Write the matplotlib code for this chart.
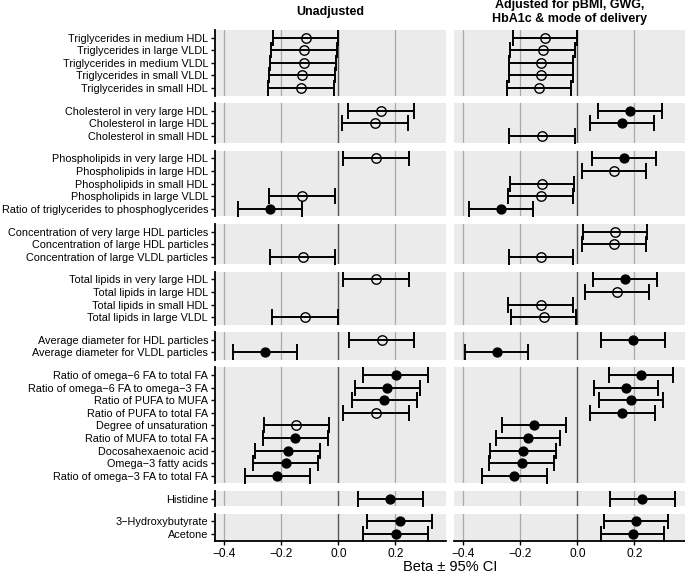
import numpy as np
import matplotlib
matplotlib.use("Agg")
import matplotlib.pyplot as plt

plt.rcParams['font.family'] = ['Liberation Sans', 'DejaVu Sans']

# === Dati ===
groups = [
    ["Triglycerides in medium HDL", "Triglycerides in large VLDL", "Triglycerides in medium VLDL",
     "Triglycerides in small VLDL", "Triglycerides in small HDL"],
    ["Cholesterol in very large HDL", "Cholesterol in large HDL", "Cholesterol in small HDL"],
    ["Phospholipids in very large HDL", "Phospholipids in large HDL", "Phospholipids in small HDL",
     "Phospholipids in large VLDL", "Ratio of triglycerides to phosphoglycerides"],
    ["Concentration of very large HDL particles", "Concentration of large HDL particles",
     "Concentration of large VLDL particles"],
    ["Total lipids in very large HDL", "Total lipids in large HDL", "Total lipids in small HDL",
     "Total lipids in large VLDL"],
    ["Average diameter for HDL particles", "Average diameter for VLDL particles"],
    ["Ratio of omega\u22126 FA to total FA", "Ratio of omega\u22126 FA to omega\u22123 FA",
     "Ratio of PUFA to MUFA", "Ratio of PUFA to total FA", "Degree of unsaturation",
     "Ratio of MUFA to total FA", "Docosahexaenoic acid", "Omega\u22123 fatty acids",
     "Ratio of omega\u22123 FA to total FA"],
    ["Histidine"],
    ["3\u2212Hydroxybutyrate", "Acetone"],
]

nan = np.nan
unadj_lo = [-0.230, -0.237, -0.240, -0.242, -0.246,
            0.035, 0.014, nan,
            0.016, nan, nan, -0.242, -0.354,
            nan, nan, -0.241,
            0.018, nan, nan, -0.233,
            0.036, -0.371,
            0.087, 0.058, 0.048, 0.016, -0.262, -0.265, -0.292, -0.299, -0.329,
            0.068,
            0.102, 0.088]
unadj_beta = [-0.115, -0.119, -0.122, -0.126, -0.131,
              0.151, 0.130, nan,
              0.131, nan, nan, -0.126, -0.241,
              nan, nan, -0.125,
              0.133, nan, nan, -0.117,
              0.152, -0.257,
              0.201, 0.172, 0.161, 0.131, -0.147, -0.151, -0.178, -0.185, -0.215,
              0.181,
              0.216, 0.202]
unadj_hi = [0.000, -0.004, -0.008, -0.011, -0.015,
            0.266, 0.244, nan,
            0.247, nan, nan, -0.011, -0.127,
            nan, nan, -0.010,
            0.249, nan, nan, -0.002,
            0.267, -0.145,
            0.315, 0.287, 0.276, 0.247, -0.033, -0.036, -0.063, -0.071, -0.101,
            0.296,
            0.330, 0.316]
unadj_sig = [0, 0, 0, 0, 0,
             0, 0, 0,
             0, 0, 0, 0, 1,
             0, 0, 0,
             0, 0, 0, 0,
             0, 1,
             1, 1, 1, 0, 0, 1, 1, 1, 1,
             1,
             1, 1]

adj_lo = [-0.227, -0.235, -0.239, -0.240, -0.247,
          0.071, 0.046, -0.239,
          0.053, 0.018, -0.237, -0.242, -0.379,
          0.019, 0.016, -0.241,
          0.055, 0.026, -0.242, -0.232,
          0.084, -0.395,
          0.112, 0.057, 0.076, 0.046, -0.265, -0.285, -0.305, -0.309, -0.335,
          0.115,
          0.095, 0.083]
adj_beta = [-0.112, -0.122, -0.126, -0.127, -0.136,
            0.185, 0.158, -0.123,
            0.165, 0.127, -0.123, -0.129, -0.267,
            0.131, 0.129, -0.129,
            0.168, 0.139, -0.129, -0.118,
            0.196, -0.283,
            0.225, 0.171, 0.189, 0.158, -0.153, -0.172, -0.189, -0.194, -0.221,
            0.227,
            0.207, 0.194]
adj_hi = [-0.002, -0.009, -0.014, -0.015, -0.023,
          0.296, 0.270, -0.008,
          0.277, 0.241, -0.011, -0.016, -0.154,
          0.244, 0.241, -0.015,
          0.281, 0.251, -0.015, -0.005,
          0.309, -0.172,
          0.337, 0.283, 0.302, 0.271, -0.041, -0.060, -0.074, -0.081, -0.108,
          0.342,
          0.319, 0.306]
adj_sig = [0, 0, 0, 0, 0,
           1, 1, 0,
           1, 0, 0, 0, 1,
           0, 0, 0,
           1, 0, 0, 0,
           1, 1,
           1, 1, 1, 1, 1, 1, 1, 1, 1,
           1,
           1, 1]

panel_titles = ["Unadjusted", "Adjusted for pBMI, GWG,\nHbA1c & mode of delivery"]
x_ticks = [-0.4, -0.2, 0.0, 0.2]
x_labels = ["\u22120.4", "\u22120.2", "0.0", "0.2"]

# === Layout (pixel) ===
W, H = 685, 575
cols = [(215, 446), (454, 685)]
TOP, BOTTOM, GAP = 30, 541.3, 7.5
XLIM = (-0.433, 0.378)
BG = "#EBEBEB"

sizes = [len(g) + 0.2 for g in groups]
unit = (BOTTOM - TOP - GAP * (len(groups) - 1)) / sum(sizes)

fig = plt.figure(figsize=(W / 100, H / 100), dpi=100)

panels = [(unadj_lo, unadj_beta, unadj_hi, unadj_sig), (adj_lo, adj_beta, adj_hi, adj_sig)]

for c, (x0, x1) in enumerate(cols):
    lo_all, b_all, hi_all, sig_all = panels[c]
    y_top = TOP
    start = 0
    for g, labels in enumerate(groups):
        n = len(labels)
        h = sizes[g] * unit
        ax = fig.add_axes([x0 / W, 1 - (y_top + h) / H, (x1 - x0) / W, h / H])
        ax.set_facecolor(BG)
        ax.set_xlim(*XLIM)
        ax.set_ylim(n + 0.6, 0.4)
        for xv in x_ticks:
            if xv == 0.0:
                ax.axvline(0, color="#555555", lw=1.0, zorder=1)
            else:
                ax.axvline(xv, color="#A9A9A9", lw=0.9, zorder=1)

        pos = np.arange(1, n + 1)
        lo = np.array(lo_all[start:start + n])
        b = np.array(b_all[start:start + n])
        hi = np.array(hi_all[start:start + n])
        sig = np.array(sig_all[start:start + n])
        ok = ~np.isnan(b)
        ax.errorbar(b[ok], pos[ok], xerr=[b[ok] - lo[ok], hi[ok] - b[ok]], fmt="none",
                    ecolor="black", elinewidth=1.4, capsize=5.5, capthick=1.4, zorder=3)
        filled = ok & (sig == 1)
        hollow = ok & (sig == 0)
        ax.plot(b[filled], pos[filled], "o", ms=6.4, mfc="black", mec="black", zorder=4)
        ax.plot(b[hollow], pos[hollow], "o", ms=6.8, mfc="none", mec="black", mew=1.0, zorder=4)

        for s in ax.spines.values():
            s.set_visible(False)
        ax.set_yticks(pos)
        if c == 0:
            ax.spines["left"].set_visible(True)
            ax.spines["left"].set_linewidth(1.3)
            ax.set_yticklabels(labels, fontsize=7.8)
            ax.tick_params(axis="y", length=3, width=1, pad=2)
        else:
            ax.tick_params(axis="y", left=False, labelleft=False)

        ax.set_xticks(x_ticks)
        if g == len(groups) - 1:
            ax.spines["bottom"].set_visible(True)
            ax.spines["bottom"].set_linewidth(1.3)
            ax.set_xticklabels(x_labels, fontsize=8.6)
            ax.tick_params(axis="x", length=3, width=1, pad=2)
        else:
            ax.tick_params(axis="x", bottom=False, labelbottom=False)

        y_top += h + GAP
        start += n

    fig.text((x0 + x1) / 2 / W, 1 - 12 / H, panel_titles[c], ha="center", va="center",
             fontsize=9, fontweight="bold", linespacing=1.2)

fig.text(450 / W, 1 - 567 / H, "Beta \u00b1 95% CI", ha="center", va="center", fontsize=10.5)

fig.savefig("out.png", dpi=100, facecolor="white")
